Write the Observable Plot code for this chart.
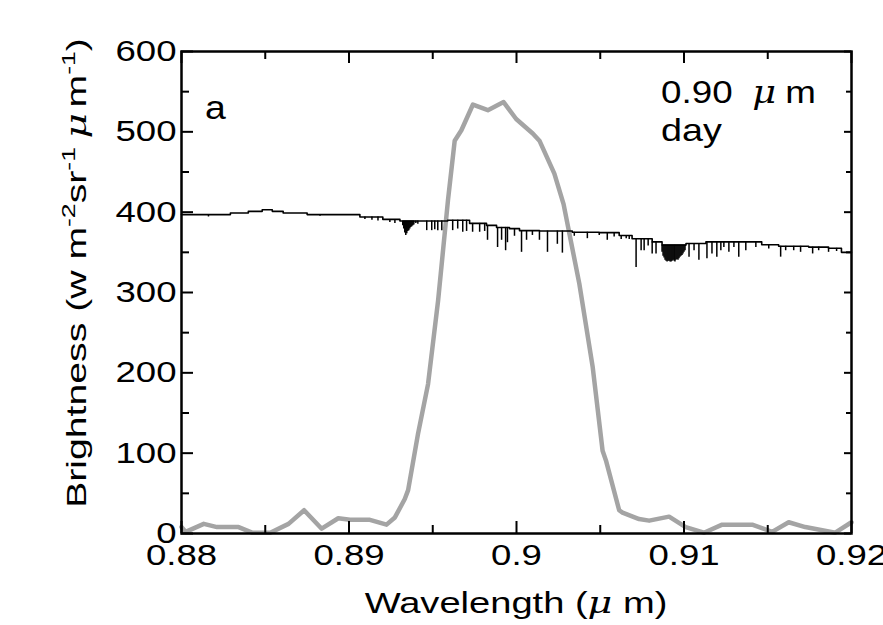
<!DOCTYPE html>
<html>
<head>
<meta charset="utf-8">
<script src="https://cdn.jsdelivr.net/npm/d3@7"></script>
<script src="https://cdn.jsdelivr.net/npm/@observablehq/plot@0.6"></script>
<style>
  html, body { margin: 0; padding: 0; background: white; }
  #chart svg { display: block; }
</style>
</head>
<body>
<div id="chart"></div>
<script>
// Filter response (gray curve)
const filterWl = [0.88000,0.88025,0.88133,0.88212,0.88341,0.88421,0.88530,0.88639,0.88732,0.88837,0.88936,0.89006,0.89125,0.89224,0.89274,0.89333,0.89353,0.89412,0.89472,0.89532,0.89591,0.89631,0.89671,0.89740,0.89829,0.89923,0.89998,0.90097,0.90137,0.90226,0.90281,0.90375,0.90455,0.90514,0.90534,0.90613,0.90633,0.90732,0.90792,0.90911,0.91010,0.91119,0.91228,0.91407,0.91526,0.91625,0.91724,0.91903,0.92000];
const filterVal = [8,2,12,8,8,1,1,12,29,6,19,17,17,11,20,43,54,124,186,290,415,489,502,534,527,537,516,498,489,448,410,311,207,103,91,29,26,18,16,21,8,1,11,11,2,14,8,1,14];

// Solar spectrum continuum (black line, stepped)
const contWl  = [0.88000,0.88292,0.88399,0.88482,0.88542,0.88607,0.88750,0.89065,0.89202,0.89304,0.89440,0.89589,0.89720,0.89821,0.89881,0.89958,0.90018,0.90137,0.90333,0.90494,0.90613,0.90690,0.90810,0.90869,0.91012,0.91131,0.91464,0.91565,0.91744,0.91863,0.91940,0.92000];
const contVal = [397,399,401,403,401,399,397,394,391,389,389,390,386,383.5,381,379.5,377,376.5,375,374.5,371,367,363,359,361,363,359.5,357.5,356.5,355,350,350];

// Absorption lines: wavelength and bottom value
const lineWl = [0.88161,0.88827,0.89095,0.89137,0.89173,0.89244,0.89274,
  0.89321,0.89327,0.89333,0.89339,0.89345,0.89351,0.89357,0.89363,0.89369,0.89375,0.89381,0.89387,0.89399,0.89411,
  0.89464,0.89494,0.89512,0.89530,0.89554,
  0.89619,0.89649,0.89679,0.89702,0.89738,0.89780,0.89810,
  0.89827,0.89887,0.89911,0.89935,0.89946,
  0.89988,0.90030,0.90060,0.90095,0.90137,
  0.90185,0.90244,0.90274,
  0.90345,0.90423,0.90494,0.90542,0.90583,0.90625,0.90655,0.90673,
  0.90714,
  0.90744,0.90762,0.90786,0.90810,0.90833,
  0.90869,0.90875,0.90881,0.90887,0.90893,0.90899,0.90905,0.90911,0.90917,0.90923,0.90929,0.90935,0.90941,0.90946,0.90952,0.90958,0.90964,0.90970,0.90976,0.90982,0.90988,0.90994,0.91000,0.91006,
  0.91030,0.91060,0.91089,
  0.91137,0.91167,0.91196,0.91220,0.91238,0.91268,0.91298,0.91327,
  0.91369,0.91429,
  0.91506,0.91577,0.91607,0.91655,0.91696,0.91768,0.91804,0.91863,0.91911];
const lineBottom = [394,395,391,390,389,387,386,
  383,379,374,371,373,376,377,379,381,382,383,384,386,385,
  377,377,378,377,377,
  377,379,375,376,375,375,376,
  365,356,365,352,362,
  370,350,365,371,365,
  350,360,349,
  370,367,371,365,369,366,367,366,
  331,
  352,352,358,348,348,
  350,345,343,340,339,338,339,339,338,338,339,340,339,338,340,341,340,342,344,345,346,348,350,352,
  344,352,340,
  342,348,344,352,356,350,356,344,
  352,356,
  354,344,352,352,350,348,352,350,351];

// Ticks
const xMajor = [0.88, 0.89, 0.9, 0.91, 0.92];
const xMinor = [0.885, 0.895, 0.905, 0.915];
const yMajor = [0, 100, 200, 300, 400, 500, 600];
const yMinor = [50, 150, 250, 350, 450, 550];
const xTickLabels = ["0.88", "0.89", "0.9", "0.91", "0.92"];

const filterData = filterWl.map((x, i) => ({x, y: filterVal[i]}));
const contData = contWl.map((x, i) => ({x, y: contVal[i]}));
function contAt(w) {
  let v = contVal[0];
  for (let i = 0; i < contWl.length; i++) if (contWl[i] <= w) v = contVal[i];
  return v;
}
const lineData = lineWl.map((x, i) => ({x, top: contAt(x), bottom: lineBottom[i]}));

const W = 883, H = 625, mL = 181, mR = 32, mT = 51, mB = 92;
const iw = W - mL - mR, ih = H - mT - mB;

const svg = Plot.plot({
  width: W, height: H,
  marginLeft: mL, marginRight: mR, marginTop: mT, marginBottom: mB,
  x: {domain: [0.88, 0.92]},
  y: {domain: [0, 600]},
  style: {fontFamily: "'Liberation Sans', Arial, sans-serif", fontSize: "30px", color: "black", background: "white", overflow: "visible"},
  marks: [
    Plot.line(filterData, {x: "x", y: "y", stroke: "#a4a4a4", strokeWidth: 4.5, strokeLinejoin: "round"}),
    Plot.ruleX(lineData, {x: "x", y1: "top", y2: "bottom", stroke: "black", strokeWidth: 1.5}),
    Plot.line(contData, {x: "x", y: "y", curve: "step-after", stroke: "black", strokeWidth: 1.6}),
    Plot.tickX(xMajor, {x: d => d, insetTop: ih - 12, stroke: "black", strokeWidth: 2}),
    Plot.tickX(xMinor, {x: d => d, insetTop: ih - 8, stroke: "black", strokeWidth: 2}),
    Plot.tickX(xMajor, {x: d => d, insetBottom: ih - 12, stroke: "black", strokeWidth: 2}),
    Plot.tickX(xMinor, {x: d => d, insetBottom: ih - 8, stroke: "black", strokeWidth: 2}),
    Plot.tickY(yMajor, {y: d => d, insetRight: iw - 12, stroke: "black", strokeWidth: 2}),
    Plot.tickY(yMinor, {y: d => d, insetRight: iw - 8, stroke: "black", strokeWidth: 2}),
    Plot.tickY(yMajor, {y: d => d, insetLeft: iw - 7, stroke: "black", strokeWidth: 2}),
    Plot.tickY(yMinor, {y: d => d, insetLeft: iw - 5, stroke: "black", strokeWidth: 2}),
    Plot.frame({stroke: "black", strokeWidth: 2.5}),
    Plot.axisX(xMajor, {tickSize: 0, tickPadding: 10, label: null, tickFormat: (d, i) => xTickLabels[i]}),
    Plot.axisY(yMajor, {tickSize: 0, tickPadding: 5, label: null})
  ]
});

// widen tick labels to match the reference's stretched glyphs
svg.querySelectorAll('g[aria-label="x-axis tick label"] text, g[aria-label="y-axis tick label"] text').forEach(t => {
  const tr = t.getAttribute("transform") || "";
  t.setAttribute("transform", tr + " scale(1.22,1)");
});

const s = d3.select(svg);
const font = "'Liberation Sans', Arial, sans-serif";

// x axis label
const xl = s.append("text")
  .attr("transform", `translate(${mL + iw / 2},613) scale(1.27,1)`)
  .attr("text-anchor", "middle").attr("font-family", font).attr("font-size", 30).attr("fill", "black");
xl.append("tspan").text("Wavelength (");
xl.append("tspan").attr("font-style", "italic").attr("font-family", "'DejaVu Serif', serif").text("\u03bc");
xl.append("tspan").text(" m)");

// y axis label
const yl = s.append("text")
  .attr("transform", `translate(86,273) rotate(-90) scale(1.4,1)`)
  .attr("text-anchor", "middle").attr("font-family", font).attr("font-size", 28).attr("fill", "black");
yl.append("tspan").text("Brightness (w m");
yl.append("tspan").attr("dy", -11).attr("font-size", 19).text("-2");
yl.append("tspan").attr("dy", 11).text("sr");
yl.append("tspan").attr("dy", -11).attr("font-size", 19).text("-1");
yl.append("tspan").attr("dy", 11).attr("dx", 6).attr("font-style", "italic").attr("font-family", "'DejaVu Serif', serif").text("\u03bc");
yl.append("tspan").attr("dx", 4).text("m");
yl.append("tspan").attr("dy", -11).attr("font-size", 19).text("-1");
yl.append("tspan").attr("dy", 11).text(")");

// panel annotations
s.append("text").attr("transform", "translate(205,119) scale(1.1,1)").attr("text-anchor", "start")
  .attr("font-family", font).attr("font-size", 34).attr("fill", "black").text("a");
const t1 = s.append("text").attr("transform", "translate(661,103) scale(1.15,1)").attr("text-anchor", "start")
  .attr("font-family", font).attr("font-size", 32).attr("fill", "black");
t1.append("tspan").text("0.90");
t1.append("tspan").attr("dx", 17).attr("font-style", "italic").attr("font-family", "'DejaVu Serif', serif").text("\u03bc");
t1.append("tspan").attr("dx", 8).text("m");
s.append("text").attr("transform", "translate(661,141) scale(1.18,1)").attr("text-anchor", "start")
  .attr("font-family", font).attr("font-size", 32).attr("fill", "black").text("day");

document.getElementById("chart").appendChild(svg);
</script>
</body>
</html>
